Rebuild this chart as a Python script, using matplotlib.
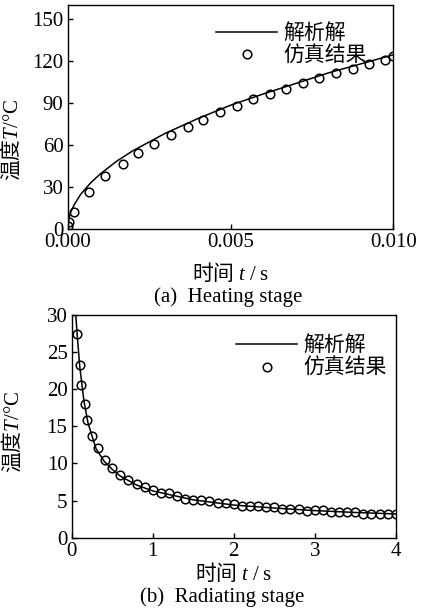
import numpy as np
import matplotlib
matplotlib.use("Agg")
import matplotlib.pyplot as plt

plt.rcParams["font.family"] = ["Liberation Serif", "Noto Sans CJK SC"]
# 轴标题里的斜体 t、T 用 mathtext，汉字走 Text 自身字体
plt.rcParams["mathtext.fontset"] = "custom"
plt.rcParams["mathtext.rm"] = "Liberation Serif"
plt.rcParams["mathtext.it"] = "Liberation Serif:italic"
plt.rcParams["mathtext.default"] = "it"

# ── (a) 加热阶段 ──────────────────────────────────────────────
heat_t_line = [0.0, 0.00005, 0.0001, 0.0002, 0.0004, 0.0007, 0.001, 0.0015, 0.002,
               0.003, 0.004, 0.005, 0.006, 0.007, 0.008, 0.009, 0.010]
heat_T_line = [0.0, 9.0, 12.5, 17.6, 25.0, 33.0, 39.5, 48.5, 56.0,
               68.5, 79.0, 88.5, 96.5, 104.0, 111.5, 118.0, 124.5]

heat_t_sim = [0.0, 0.00003, 0.0002, 0.00064, 0.00114, 0.00169, 0.00216, 0.00265,
              0.00317, 0.00368, 0.00416, 0.00469, 0.00519, 0.00568, 0.00622,
              0.0067, 0.00723, 0.00773, 0.00823, 0.00876, 0.00926, 0.00973, 0.01]
heat_T_sim = [2.4, 5.0, 12.3, 26.6, 38.0, 46.8, 54.4, 61.0, 67.6, 73.1, 77.9,
              83.8, 87.8, 92.6, 96.8, 100.2, 104.4, 107.8, 111.3, 114.4, 118.0,
              121.0, 123.4]

# ── (b) 辐射阶段 ──────────────────────────────────────────────
rad_t_line = [0.05, 0.07, 0.1, 0.15, 0.2, 0.3, 0.4, 0.5, 0.6, 0.8, 1.0,
              1.5, 2.0, 2.5, 3.0, 3.5, 4.0]
rad_T_line = [30.0, 27.0, 23.0, 18.5, 15.5, 12.0, 10.3, 9.2, 8.3, 7.1, 6.3,
              5.1, 4.4, 4.0, 3.65, 3.4, 3.2]

rad_t_sim = [0.07, 0.1, 0.11, 0.16, 0.19, 0.25, 0.32, 0.41, 0.5, 0.6, 0.7, 0.8,
             0.9, 1.0, 1.1, 1.2, 1.3, 1.4, 1.5, 1.6, 1.7, 1.8, 1.9, 2.0, 2.1,
             2.2, 2.3, 2.4, 2.5, 2.6, 2.7, 2.8, 2.9, 3.0, 3.1, 3.2, 3.3, 3.4,
             3.5, 3.6, 3.7, 3.8, 3.9, 4.0]
rad_T_sim = [27.5, 23.3, 20.6, 18.0, 15.8, 13.7, 12.1, 10.5, 9.4, 8.5, 7.8, 7.25,
             6.8, 6.36, 6.05, 6.0, 5.6, 5.2, 5.05, 5.1, 4.9, 4.7, 4.7, 4.5, 4.25,
             4.25, 4.3, 4.1, 4.15, 3.9, 3.9, 3.8, 3.6, 3.7, 3.7, 3.45, 3.45, 3.45,
             3.5, 3.2, 3.2, 3.2, 3.2, 3.2]

labels = ["解析解", "仿真结果"]
xlabel = "时间 $t\\ /\\ \\mathrm{s}$"
ylabel = "温度$T/\\mathrm{°C}$"
cjk = "Noto Sans CJK SC"

fig = plt.figure(figsize=(4.23, 6.11), dpi=100)
W, H = 423, 611


def make_axes(l, r, t, b):
    return fig.add_axes([l / W, 1 - b / H, (r - l) / W, (b - t) / H])


ax1 = make_axes(67.7, 393.3, 5, 229.3)
ax2 = make_axes(71.7, 395.7, 315, 537.7)

mk = dict(marker="o", markersize=6.2, markerfacecolor="none",
          markeredgecolor="black", markeredgewidth=1.1, linestyle="none")

for ax, tl, Tl, ts, Ts in [(ax1, heat_t_line, heat_T_line, heat_t_sim, heat_T_sim),
                           (ax2, rad_t_line, rad_T_line, rad_t_sim, rad_T_sim)]:
    ax.plot(tl, Tl, color="black", linewidth=1.1, label=labels[0])
    ax.plot(ts, Ts, label=labels[1], **mk)
    ax.tick_params(direction="in", length=3.5, width=1.0, labelsize=15, pad=3)
    for sp in ax.spines.values():
        sp.set_linewidth(1.0)
    ax.set_ylabel(ylabel, fontsize=15, family=cjk)

ax1.set_xlim(0, 0.010)
ax1.set_ylim(0, 160)
ax1.set_xticks([0.0, 0.005, 0.010])
ax1.set_xticklabels(["0.000", "0.005", "0.010"])
ax1.set_yticks([0, 30, 60, 90, 120, 150])
ax1.set_xlabel(xlabel, fontsize=15, family=cjk, labelpad=6)
ax1.yaxis.set_label_coords(-0.137, 0.40)

ax2.set_xlim(0, 4)
ax2.set_ylim(0, 30)
ax2.set_xticks([0, 1, 2, 3, 4])
ax2.set_yticks([0, 5, 10, 15, 20, 25, 30])
ax2.set_xlabel(xlabel, fontsize=15, family=cjk, labelpad=0)
ax2.yaxis.set_label_coords(-0.147, 0.476)

leg_kw = dict(loc="upper right", frameon=False, fontsize=15, handlelength=2.95,
              handletextpad=0.28, labelspacing=0.12, borderpad=0, borderaxespad=0,
              numpoints=1)
ax1.legend(bbox_to_anchor=(0.918, 0.915), **leg_kw)
ax2.legend(bbox_to_anchor=(0.972, 0.904), **leg_kw)

fig.text(228 / W, 1 - 297 / H, "(a)  Heating stage", ha="center", va="center", fontsize=15)
fig.text(222 / W, 1 - 597 / H, "(b)  Radiating stage", ha="center", va="center", fontsize=15)

plt.savefig("out.png", dpi=100)
plt.close()
